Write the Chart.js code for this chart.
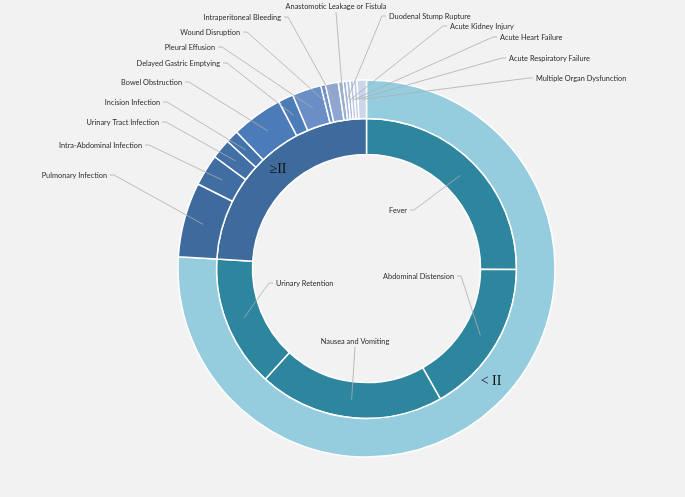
<!DOCTYPE html>
<html>
<head>
<meta charset="utf-8">
<script src="https://cdn.jsdelivr.net/npm/chart.js@4.4.1/dist/chart.umd.min.js"></script>
<style>
  html, body { margin: 0; padding: 0; background: #f2f2f2; }
</style>
</head>
<body>
<canvas id="chart" width="685" height="497"></canvas>
<script>
// inner ring: the < II symptoms one by one, then the whole >= II group
const innerNames = ["Fever", "Abdominal Distension", "Nausea and Vomiting", "Urinary Retention", "≥II"];
const innerValues = [25.1, 16.7, 20.0, 14.2, 24.0];

// outer ring: < II as one block, then each >= II complication
const outerNames = [
  "< II", "Pulmonary Infection", "Intra-Abdominal Infection", "Urinary Tract Infection",
  "Incision Infection", "Bowel Obstruction", "Delayed Gastric Emptying", "Pleural Effusion",
  "Wound Disruption", "Intraperitoneal Bleeding", "Anastomotic Leakage or Fistula",
  "Duodenal Stump Rupture", "Acute Kidney Injury", "Acute Heart Failure",
  "Acute Respiratory Failure", "Multiple Organ Dysfunction"
];
const outerValues = [76.0, 6.4, 2.7, 1.7, 1.1, 4.4, 1.3, 2.5, 0.4, 1.1, 0.4, 0.3, 0.3, 0.3, 0.3, 0.8];

const innerColors = ["#2e859e", "#2e859e", "#2e859e", "#2e859e", "#3e6a9c"];
const outerColors = [
  "#95cddf", "#3e6a9e", "#406da2", "#4270a6", "#4473ab", "#4b7bb8", "#4d7db9", "#6a8ec6",
  "#6f92c7", "#8ea6d0", "#99afd4", "#a4b7d9", "#afc0de", "#b9c8e2", "#c2cfe6", "#ccd6ea"
];

// where each label text sits: [x, y, side]; L = text left of its line, R = right, T = line below text, N = no line
const labelSpots = {
  "Pulmonary Infection": [107, 175, "L"],
  "Intra-Abdominal Infection": [142, 145, "L"],
  "Urinary Tract Infection": [159, 122, "L"],
  "Incision Infection": [160, 102, "L"],
  "Bowel Obstruction": [182, 82, "L"],
  "Delayed Gastric Emptying": [220, 63, "L"],
  "Pleural Effusion": [215, 47, "L"],
  "Wound Disruption": [240, 32, "L"],
  "Intraperitoneal Bleeding": [281, 17, "L"],
  "Anastomotic Leakage or Fistula": [336, 6, "T"],
  "Duodenal Stump Rupture": [389, 16, "R"],
  "Acute Kidney Injury": [450, 26, "R"],
  "Acute Heart Failure": [500, 37, "R"],
  "Acute Respiratory Failure": [509, 58, "R"],
  "Multiple Organ Dysfunction": [536, 78, "R"],
  "Fever": [407, 210, "L"],
  "Abdominal Distension": [454, 276, "L"],
  "Nausea and Vomiting": [355, 341, "T"],
  "Urinary Retention": [276, 283, "R"],
  "< II": [491, 381, "N"],
  "≥II": [278, 169, "N"]
};

const leaderLabels = {
  id: "leaderLabels",
  afterDatasetsDraw(chart) {
    const ctx = chart.ctx;
    ctx.save();
    chart.data.datasets.forEach((ds, di) => {
      chart.getDatasetMeta(di).data.forEach((arc, i) => {
        const name = ds.names[i];
        const spot = labelSpots[name];
        if (!spot) return;
        const [x, y, side] = spot;
        const c = arc.getCenterPoint();
        ctx.textBaseline = "middle";
        if (side === "N") {
          ctx.font = "14px 'Liberation Serif', serif";
          ctx.fillStyle = "#111";
          ctx.textAlign = "center";
          ctx.fillText(name, x, y);
          return;
        }
        ctx.strokeStyle = "#adadad";
        ctx.lineWidth = 0.8;
        ctx.beginPath();
        ctx.moveTo(c.x, c.y);
        if (side === "L") {
          ctx.lineTo(x + 7, y);
          ctx.lineTo(x + 3, y);
        } else if (side === "R") {
          ctx.lineTo(x - 7, y);
          ctx.lineTo(x - 3, y);
        } else {
          ctx.lineTo(x, y + 6);
        }
        ctx.stroke();
        // the reference font runs a little narrower than Lato, so squeeze it
        ctx.save();
        ctx.translate(x, y);
        ctx.scale(0.92, 1);
        ctx.font = "8px Lato, sans-serif";
        ctx.fillStyle = "#2b2b2b";
        ctx.textAlign = side === "L" ? "right" : side === "R" ? "left" : "center";
        ctx.fillText(name, 0, 0);
        ctx.restore();
      });
    });
    ctx.restore();
  }
};

new Chart(document.getElementById("chart"), {
  type: "doughnut",
  data: {
    datasets: [
      {
        names: outerNames,
        data: outerValues,
        backgroundColor: outerColors,
        borderColor: "#fff",
        borderWidth: 1.5,
        weight: 38.5
      },
      {
        names: innerNames,
        data: innerValues,
        backgroundColor: innerColors,
        borderColor: "#fff",
        borderWidth: 1.5,
        weight: 36
      }
    ]
  },
  options: {
    responsive: false,
    animation: false,
    cutout: "60.5%",
    layout: {
      padding: { left: 177.25, right: 129.25, top: 79.25, bottom: 39.25 }
    },
    plugins: {
      legend: { display: false },
      tooltip: { enabled: false }
    }
  },
  plugins: [leaderLabels]
});
</script>
</body>
</html>
